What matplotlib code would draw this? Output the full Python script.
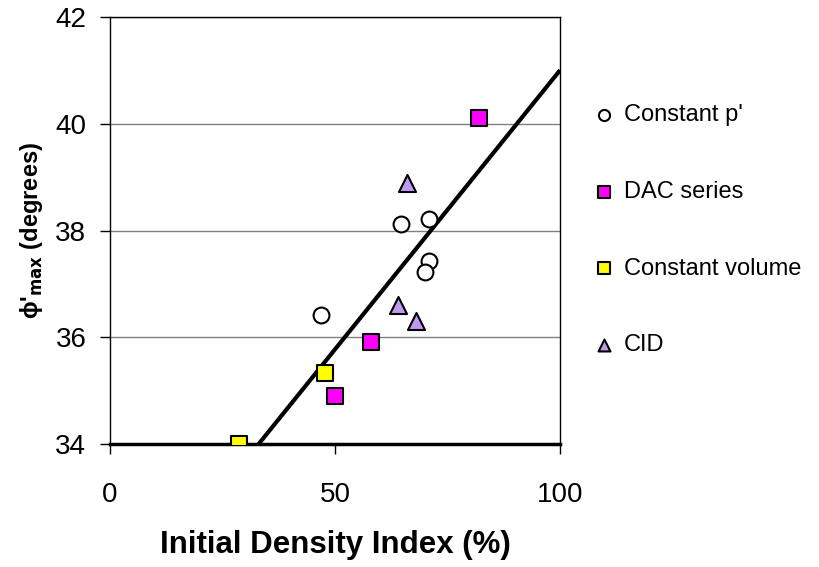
import numpy as np
import matplotlib
matplotlib.use("Agg")
import matplotlib.pyplot as plt

plt.rcParams['font.family'] = ['Liberation Sans', 'DejaVu Sans']

# data
cp_x = [46.9, 64.7, 70.9, 70.9, 70.0]
cp_y = [36.41, 38.13, 38.21, 37.43, 37.23]
dac_x = [82.1, 58.0, 50.0]
dac_y = [40.11, 35.92, 34.91]
cv_x = [47.8, 28.7]
cv_y = [35.33, 34.0]
cid_x = [66.1, 64.1, 68.0]
cid_y = [38.89, 36.61, 36.30]
fit_x = [33.0, 100.0]
fit_y = [34.0, 41.0]

fig = plt.figure(figsize=(8.2, 5.67), dpi=100)
ax = fig.add_axes([0.134, 0.2164, 0.549, 0.7541])

ax.plot(fit_x, fit_y, color='black', lw=3, zorder=2, solid_capstyle='butt')
ax.scatter(cp_x, cp_y, s=130, marker='o', facecolor='white', edgecolor='black', lw=1.5, zorder=3, label="Constant p'")
ax.scatter(dac_x, dac_y, s=130, marker='s', facecolor='#ff00ff', edgecolor='black', lw=1.5, zorder=3, label='DAC series')
ax.scatter(cv_x, cv_y, s=130, marker='s', facecolor='#ffff00', edgecolor='black', lw=1.5, zorder=3, label='Constant volume')
ax.scatter(cid_x, cid_y, s=150, marker='^', facecolor='#c09af0', edgecolor='black', lw=1.5, zorder=3, label='CID')

ax.set_xlim(0, 100)
ax.set_ylim(34, 42)
ax.set_xticks([0, 50, 100])
ax.set_yticks([34, 36, 38, 40, 42])
ax.tick_params(labelsize=20, length=7, width=1, direction='out', pad=10)
ax.tick_params(axis='x', pad=20)
ax.yaxis.grid(True, color='#808080', lw=1)
ax.set_axisbelow(True)
for s in ['left', 'right', 'top']:
    ax.spines[s].set_linewidth(1)
ax.spines['bottom'].set_linewidth(2.5)

ax.set_xlabel('Initial Density Index (%)', fontsize=22.5, fontweight='bold')
ax.xaxis.set_label_coords(0.5, -0.2)
ax.set_ylabel(r"ϕ'$_{\mathbf{max}}$ (degrees)", fontsize=17, fontweight='bold')
ax.yaxis.set_label_coords(-0.145, 0.5)

leg = ax.legend(loc='upper left', bbox_to_anchor=(1.05, 0.818), frameon=False,
                fontsize=17, labelspacing=2.32, handletextpad=0.35,
                handlelength=1.0, markerscale=0.7, borderaxespad=0)

fig.savefig('out.png', dpi=100)
